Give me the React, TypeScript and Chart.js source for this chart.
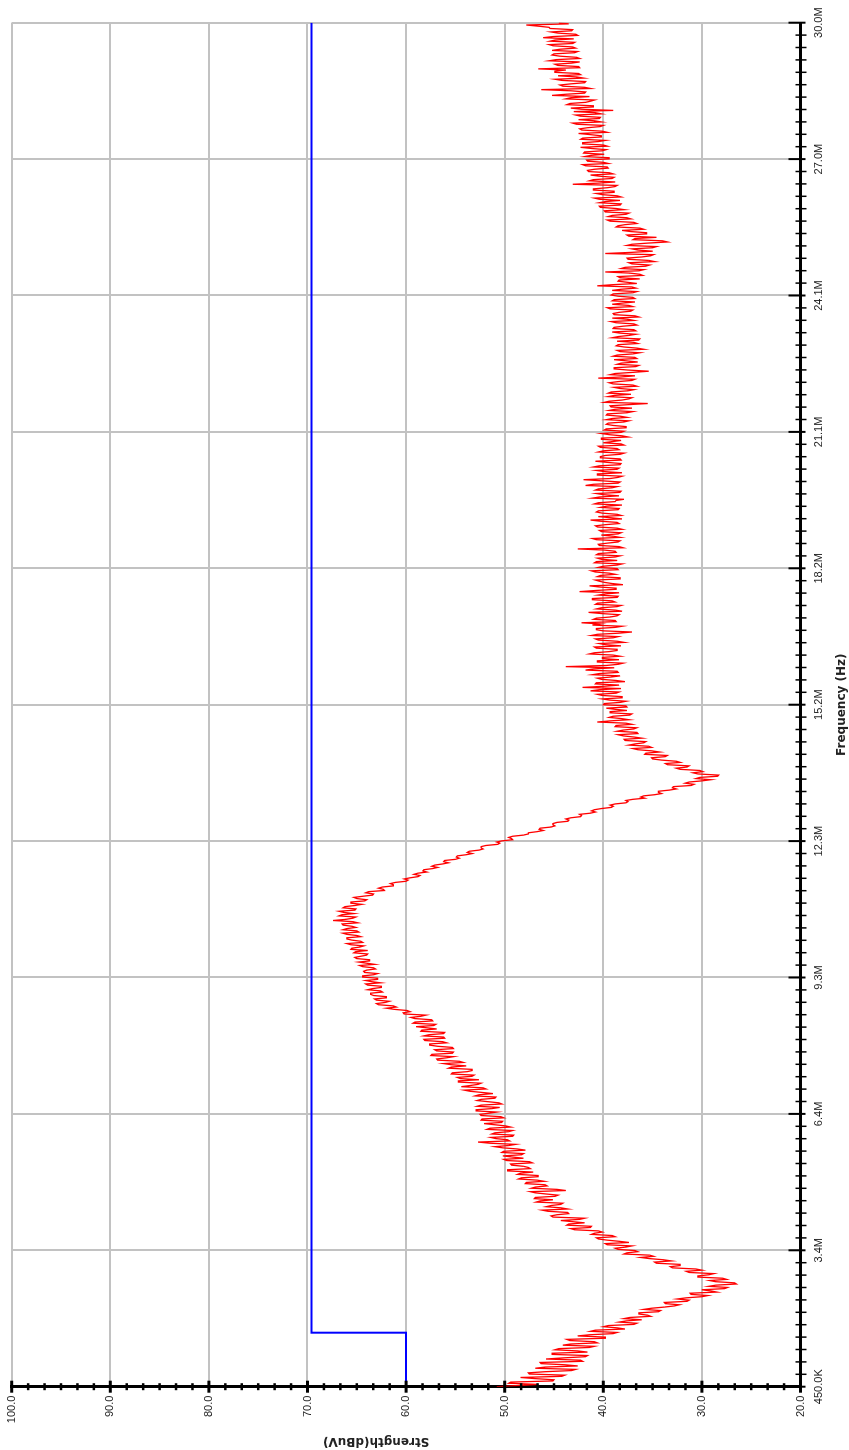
import React, { useEffect, useRef } from 'react';
import { Chart, registerables } from 'chart.js';

Chart.register(...registerables);

// ---- axis definitions ----
const FREQ_MIN = 0.45; // MHz
const FREQ_MAX = 30.0; // MHz
const FREQ_TICKS = [0.45, 3.405, 6.36, 9.315, 12.27, 15.225, 18.18, 21.135, 24.09, 27.045, 30.0];
const FREQ_TICK_LABELS = ['450.0K', '3.4M', '6.4M', '9.3M', '12.3M', '15.2M', '18.2M', '21.1M', '24.1M', '27.0M', '30.0M'];
const STRENGTH_MIN = 20;
const STRENGTH_MAX = 100;
const STRENGTH_TICKS = [20, 30, 40, 50, 60, 70, 80, 90, 100];
const STRENGTH_TICK_LABELS = ['20.0', '30.0', '40.0', '50.0', '60.0', '70.0', '80.0', '90.0', '100.0'];
const X_TITLE = 'Frequency (Hz)';
const Y_TITLE = 'Strength(dBuV)';

// ---- limit line (blue) ----
const LIMIT_FREQ = [0.45, 1.62, 1.62, 30.0];
const LIMIT_LEVEL = [60.0, 60.0, 69.6, 69.6];

// ---- measured trace (red), sweep step 0.025 MHz ----
const SWEEP_STEP = 0.025;
const TRACE_0M45 = [
  50.8, 48.7, 46.6, 49.6, 49.4, 45.1, 45.0, 46.9, 48.4, 44.2,
  43.9, 47.5, 47.6, 45.9, 43.2, 42.8, 46.9, 45.9, 42.6, 43.9,
  46.3, 46.4, 42.1, 42.3, 45.8, 44.0, 41.8, 41.6, 45.2, 45.2,
  41.6, 42.6, 44.9, 44.5, 41.4, 40.9, 44.1, 43.3, 40.6, 40.9,
  43.4, 43.7, 39.8, 39.8, 42.6, 41.4, 39.0, 38.6, 41.3, 40.8,
  37.8, 38.6, 40.0, 39.5, 36.9, 36.6, 38.4, 37.7, 36.1, 37.9,
  37.3, 35.2, 35.5, 36.4, 36.4, 34.4, 34.2, 35.9, 35.1, 33.8,
  32.8, 32.3, 33.7, 33.8, 31.5, 31.3, 32.5, 31.6, 30.0, 29.4,
  31.1, 31.2, 28.5, 29.1, 30.0, 27.7, 27.4, 29.3, 28.6, 26.5,
  26.7, 28.6, 29.2, 27.5, 27.9, 30.4, 30.4, 29.3, 28.8, 31.3,
  31.6, 30.0, 30.6, 33.0, 33.2, 32.2, 32.2, 34.6, 34.8, 33.1,
  33.9, 35.3, 36.2, 34.9, 35.3, 37.9, 37.6, 36.5, 36.8, 38.5,
];
const TRACE_3M45 = [
  38.8, 37.7, 37.1, 39.6, 39.8, 37.4, 38.4, 39.6, 40.5, 40.7,
  38.8, 39.1, 41.2, 40.9, 40.1, 40.5, 42.9, 43.3, 41.3, 41.2,
  43.7, 43.5, 41.9, 43.1, 44.3, 42.4, 41.9, 45.1, 45.3, 44.7,
  43.5, 43.6, 45.6, 46.2, 43.6, 44.3, 45.8, 45.3, 44.3, 44.1,
  46.8, 46.4, 45.1, 47.0, 46.9, 44.9, 44.6, 45.8, 46.9, 47.4,
  43.8, 44.7, 47.3, 46.9, 45.7, 45.9, 47.9, 47.8, 46.0, 46.7,
  48.6, 48.3, 46.6, 46.6, 48.7, 48.4, 47.1, 49.7, 49.7, 47.4,
  47.6, 48.1, 49.3, 49.4, 47.2, 47.5, 49.8, 50.1, 48.1, 49.2,
  50.2, 48.3, 48.1, 50.3, 50.1, 47.9, 48.7, 50.2, 51.0, 49.6,
  48.9, 51.5, 52.7, 49.5, 49.7, 50.9, 51.4, 49.2, 49.1, 51.3,
  51.0, 49.6, 49.2, 51.8, 51.5, 49.4, 49.9, 51.0, 52.1, 50.3,
  50.2, 52.4, 52.3, 50.1, 50.4, 52.4, 52.5, 51.6, 50.8, 52.9,
];
const TRACE_6M45 = [
  52.9, 51.3, 50.5, 52.8, 52.4, 50.3, 50.6, 51.7, 52.8, 52.4,
  51.0, 50.9, 53.0, 52.6, 51.2, 52.3, 53.5, 54.1, 51.9, 52.2,
  54.4, 53.5, 52.7, 52.4, 54.7, 54.7, 52.6, 54.5, 54.8, 53.3,
  53.1, 55.4, 55.3, 53.8, 53.3, 53.3, 55.7, 55.4, 53.9, 55.4,
  56.2, 54.2, 54.6, 56.8, 56.9, 55.9, 55.2, 57.5, 57.4, 55.3,
  55.2, 56.9, 57.1, 55.2, 55.3, 56.8, 57.6, 57.6, 55.9, 56.3,
  58.1, 58.2, 56.1, 56.2, 58.2, 57.7, 56.2, 56.1, 58.5, 58.4,
  56.9, 57.9, 59.0, 57.2, 57.0, 59.3, 59.1, 57.3, 57.4, 59.1,
  59.5, 58.5, 58.0, 60.2, 60.3, 59.6, 59.9, 61.2, 62.0, 61.0,
  61.3, 62.8, 63.0, 62.1, 61.7, 63.0, 63.2, 62.0, 62.0, 63.3,
  63.6, 63.6, 62.4, 62.6, 63.9, 63.4, 62.5, 62.5, 63.9, 64.1,
  62.6, 63.5, 64.1, 62.9, 62.9, 64.4, 64.4, 63.3, 62.9, 64.2,
];
const TRACE_9M45 = [
  64.3, 64.0, 63.1, 63.3, 64.4, 64.7, 63.2, 64.0, 64.8, 63.7,
  63.7, 65.0, 65.2, 64.6, 64.0, 63.9, 65.3, 65.1, 63.9, 65.6,
  65.5, 64.7, 64.3, 65.6, 66.0, 64.4, 64.6, 65.5, 66.0, 66.0,
  64.6, 65.0, 66.0, 66.4, 64.8, 65.0, 66.4, 66.0, 65.1, 65.5,
  66.4, 66.5, 64.9, 65.4, 67.4, 66.1, 65.4, 65.1, 66.8, 66.5,
  65.3, 66.3, 66.8, 65.2, 65.1, 66.4, 66.2, 65.2, 64.5, 65.6,
  65.6, 64.2, 64.0, 65.0, 65.3, 64.4, 63.4, 63.3, 64.1, 63.8,
  62.2, 62.3, 62.8, 62.4, 61.3, 61.3, 61.6, 61.1, 60.0, 59.8,
  60.2, 59.6, 58.8, 58.6, 59.2, 58.8, 57.9, 58.3, 58.2, 57.3,
  56.8, 57.4, 57.1, 56.3, 55.7, 56.2, 56.1, 55.0, 54.6, 54.9,
  54.8, 53.9, 53.3, 53.8, 53.6, 52.6, 52.2, 52.4, 52.4, 51.9,
  50.7, 50.5, 50.8, 50.3, 49.2, 49.3, 49.6, 49.2, 48.1, 47.6,
];
const TRACE_12M45 = [
  47.6, 46.7, 46.1, 46.5, 46.4, 45.3, 44.9, 45.1, 45.1, 44.7,
  43.6, 43.5, 43.8, 43.3, 42.3, 42.2, 42.4, 41.3, 40.8, 41.2,
  40.9, 40.2, 39.2, 39.0, 39.3, 38.8, 37.7, 37.5, 37.7, 37.0,
  35.8, 36.2, 35.9, 34.8, 34.1, 34.4, 34.4, 33.3, 32.6, 33.0,
  32.9, 31.1, 30.8, 31.7, 31.3, 30.0, 29.1, 30.6, 30.2, 28.4,
  28.3, 30.4, 30.9, 29.9, 30.2, 32.2, 32.6, 31.5, 31.3, 33.5,
  33.7, 32.2, 32.6, 34.1, 35.0, 35.1, 33.7, 33.5, 35.8, 35.7,
  34.3, 35.1, 36.5, 37.0, 35.1, 35.4, 37.4, 36.8, 35.9, 35.7,
  37.8, 37.9, 36.1, 36.9, 38.0, 38.5, 36.5, 36.6, 38.6, 38.0,
  36.9, 36.6, 38.8, 38.7, 37.1, 37.7, 40.6, 39.3, 37.4, 38.2,
  39.4, 39.0, 37.3, 37.1, 39.3, 39.3, 37.6, 38.8, 39.7, 37.6,
  37.7, 40.0, 39.9, 38.3, 37.7, 39.4, 40.1, 38.1, 38.1, 40.1,
];
const TRACE_15M45 = [
  40.6, 38.7, 38.4, 41.3, 40.4, 38.2, 42.1, 39.9, 38.4, 40.8,
  40.7, 37.8, 38.7, 40.2, 40.6, 39.2, 38.3, 41.1, 40.4, 38.5,
  38.6, 41.8, 41.0, 38.9, 43.8, 39.7, 38.5, 38.0, 40.6, 40.6,
  38.4, 40.1, 40.1, 38.3, 39.0, 41.4, 40.9, 39.4, 38.6, 38.6,
  40.7, 40.9, 38.2, 39.8, 40.4, 37.9, 38.6, 40.5, 40.8, 39.0,
  38.5, 41.2, 40.6, 38.4, 37.1, 40.0, 40.7, 40.7, 38.8, 38.1,
  41.1, 40.3, 42.2, 38.7, 38.8, 41.0, 40.7, 39.3, 38.6, 38.4,
  40.2, 41.5, 38.1, 38.8, 40.7, 40.2, 38.6, 38.2, 40.8, 40.6,
  38.8, 39.1, 41.1, 41.1, 38.6, 38.5, 40.5, 39.8, 38.4, 42.4,
  40.7, 38.7, 38.7, 40.4, 41.4, 38.0, 39.1, 39.9, 40.4, 40.8,
  38.3, 38.3, 40.6, 40.3, 38.8, 39.4, 40.8, 41.2, 38.5, 38.6,
  40.5, 40.0, 38.6, 38.1, 40.9, 40.7, 38.6, 40.2, 40.6, 38.8,
];
const TRACE_18M45 = [
  38.3, 40.7, 40.5, 38.7, 38.8, 39.9, 42.6, 38.0, 38.4, 40.4,
  40.5, 39.6, 38.5, 38.3, 40.7, 41.1, 38.3, 39.0, 40.2, 38.5,
  38.2, 40.2, 40.4, 38.1, 38.6, 40.6, 40.8, 39.8, 38.4, 38.6,
  40.3, 41.3, 38.1, 39.2, 40.5, 38.2, 38.6, 40.1, 40.7, 40.5,
  38.5, 38.4, 40.3, 39.7, 38.1, 40.9, 40.5, 38.8, 38.7, 37.9,
  41.1, 40.4, 38.4, 40.0, 40.7, 38.3, 38.2, 40.8, 40.5, 39.1,
  38.6, 41.8, 41.0, 38.5, 38.3, 40.1, 42.0, 39.3, 38.5, 38.1,
  40.6, 40.6, 38.1, 39.9, 40.7, 38.6, 38.4, 41.0, 40.4, 38.3,
  38.2, 39.6, 40.8, 38.2, 38.3, 40.3, 40.3, 39.8, 38.3, 37.9,
  40.5, 40.0, 38.4, 38.6, 40.3, 40.5, 37.9, 38.2, 40.0, 39.1,
  38.2, 40.2, 40.2, 37.5, 38.1, 39.4, 40.2, 38.2, 37.9, 39.9,
  39.7, 37.7, 37.7, 39.0, 39.7, 39.5, 37.9, 37.4, 39.7, 39.1,
];
const TRACE_21M45 = [
  37.6, 38.3, 39.7, 39.6, 37.6, 37.0, 39.4, 38.8, 37.1, 39.2,
  39.3, 37.5, 35.5, 39.9, 39.4, 38.1, 37.4, 37.1, 39.5, 38.9,
  37.2, 39.5, 39.2, 37.5, 36.9, 38.3, 38.9, 36.6, 37.0, 39.0,
  39.4, 38.5, 37.1, 36.8, 40.5, 38.2, 36.8, 39.3, 38.8, 37.0,
  35.4, 37.5, 38.9, 38.9, 36.7, 36.4, 38.6, 38.2, 36.5, 37.7,
  38.9, 36.6, 36.8, 39.0, 38.6, 37.0, 36.3, 38.3, 38.6, 35.9,
  36.6, 37.9, 38.7, 38.5, 36.5, 36.9, 38.6, 36.4, 36.3, 39.1,
  38.5, 37.4, 36.7, 38.3, 39.1, 36.7, 36.9, 39.0, 38.9, 38.0,
  36.6, 36.9, 38.7, 39.2, 36.9, 37.5, 39.1, 36.4, 36.8, 38.9,
  39.0, 38.4, 37.2, 37.0, 39.3, 39.6, 37.0, 37.4, 39.1, 38.1,
  36.8, 39.1, 38.9, 36.8, 37.0, 38.5, 39.2, 39.0, 37.0, 36.6,
  39.1, 38.2, 36.7, 37.1, 40.6, 39.0, 36.6, 37.5, 38.5, 38.4,
];
const TRACE_24M45 = [
  36.3, 38.3, 38.5, 36.0, 36.3, 37.3, 39.8, 36.4, 35.9, 38.2,
  37.8, 35.7, 35.3, 37.1, 37.4, 34.8, 35.4, 37.5, 37.6, 36.1,
  35.2, 34.9, 39.8, 37.1, 35.0, 36.5, 37.1, 35.0, 34.6, 37.6,
  37.1, 35.5, 33.5, 34.0, 37.0, 36.8, 34.6, 37.4, 37.6, 35.6,
  35.6, 37.2, 38.1, 35.9, 36.3, 38.7, 38.5, 37.8, 36.6, 36.9,
  39.3, 39.6, 37.2, 37.6, 39.5, 39.1, 37.7, 37.4, 39.8, 39.9,
  37.9, 38.7, 40.3, 40.4, 38.3, 38.2, 40.4, 39.8, 38.3, 40.4,
  40.9, 38.2, 38.6, 40.1, 40.7, 38.9, 38.9, 41.0, 41.0, 39.6,
  38.8, 38.6, 43.1, 40.5, 38.8, 41.4, 41.0, 39.1, 38.9, 40.4,
  41.3, 39.0, 39.4, 41.5, 41.6, 40.9, 39.5, 39.6, 41.8, 42.1,
  39.5, 40.0, 41.6, 41.7, 39.4, 39.4, 41.9, 41.3, 39.9, 42.0,
  41.9, 40.1, 39.7, 41.2, 42.3, 39.6, 40.0, 42.1, 42.1, 40.5,
];
const TRACE_27M45 = [
  39.8, 42.3, 42.1, 40.2, 40.2, 41.3, 42.5, 39.6, 40.1, 42.2,
  42.4, 41.6, 40.3, 40.0, 42.7, 43.1, 40.2, 40.9, 42.5, 40.4,
  40.3, 42.3, 42.8, 40.2, 40.8, 43.0, 39.0, 42.2, 43.3, 41.0,
  41.0, 43.7, 43.4, 41.8, 41.3, 40.9, 43.8, 43.3, 41.4, 45.2,
  43.8, 41.9, 41.8, 43.3, 46.3, 41.3, 41.9, 44.1, 44.4, 43.3,
  41.9, 41.8, 44.2, 44.9, 42.0, 42.7, 44.6, 42.3, 42.5, 44.9,
  44.9, 43.8, 46.6, 42.4, 42.5, 44.6, 44.9, 43.2, 42.4, 45.5,
  44.8, 42.4, 42.7, 44.4, 45.2, 45.0, 42.9, 42.6, 45.2, 44.4,
  42.8, 43.1, 45.1, 45.5, 43.1, 42.9, 45.4, 44.9, 43.0, 46.1,
  45.1, 42.6, 42.8, 44.6, 45.3, 43.2, 43.1, 45.4, 45.5, 46.6,
  47.8, 43.5, 44.5,
];
const TRACE_SEGMENTS: [number, number[]][] = [
  [0.45, TRACE_0M45], [3.45, TRACE_3M45], [6.45, TRACE_6M45], [9.45, TRACE_9M45],
  [12.45, TRACE_12M45], [15.45, TRACE_15M45], [18.45, TRACE_18M45], [21.45, TRACE_21M45],
  [24.45, TRACE_24M45], [27.45, TRACE_27M45],
];

const TICK_FONT = "'Liberation Sans', Arial, sans-serif";
const TITLE_FONT = "'DejaVu Sans', Verdana, sans-serif";

function buildTrace() {
  const pts: { x: number; y: number }[] = [];
  TRACE_SEGMENTS.forEach(([start, vals]) => {
    vals.forEach((v, i) => {
      pts.push({ x: Math.round((start + i * SWEEP_STEP) * 10000) / 10000, y: v });
    });
  });
  return pts;
}

const axisDecorPlugin = {
  id: 'axisDecor',
  afterDraw(chart: any) {
    const { ctx, chartArea } = chart;
    const xs = chart.scales.x;
    const ys = chart.scales.y;
    ctx.save();
    ctx.strokeStyle = '#000';
    const line = (x1: number, y1: number, x2: number, y2: number, w: number) => {
      ctx.lineWidth = w;
      ctx.beginPath();
      ctx.moveTo(x1, y1);
      ctx.lineTo(x2, y2);
      ctx.stroke();
    };
    // frequency axis ticks
    const by = chartArea.bottom;
    FREQ_TICKS.forEach((v, k) => {
      const px = xs.getPixelForValue(v);
      line(px, by - 12, px, by + 5, 2);
      if (k < FREQ_TICKS.length - 1) {
        const nv = FREQ_TICKS[k + 1];
        for (let m = 1; m < 11; m++) {
          const mp = xs.getPixelForValue(v + ((nv - v) * m) / 11);
          line(mp, by - 5, mp, by + 6, 1.5);
        }
      }
    });
    // strength axis ticks
    const lx = chartArea.left;
    STRENGTH_TICKS.forEach((v, k) => {
      const py = ys.getPixelForValue(v);
      line(lx - 6, py, lx + 6, py, 3);
      if (k < STRENGTH_TICKS.length - 1) {
        const nv = STRENGTH_TICKS[k + 1];
        for (let m = 1; m < 6; m++) {
          const mp = ys.getPixelForValue(v + ((nv - v) * m) / 6);
          line(lx - 3.5, mp, lx + 3.5, mp, 2.5);
        }
      }
    });
    // axis titles
    ctx.fillStyle = '#222';
    ctx.font = `bold 12px ${TITLE_FONT}`;
    ctx.textAlign = 'center';
    ctx.textBaseline = 'middle';
    ctx.fillText(X_TITLE, (chartArea.left + chartArea.right) / 2, chart.height - 7);
    ctx.save();
    ctx.translate(9, (chartArea.top + chartArea.bottom) / 2 - 30);
    ctx.rotate(-Math.PI / 2);
    ctx.fillText(Y_TITLE, 0, 0);
    ctx.restore();
    ctx.restore();
  },
};

export default function App() {
  const ref = useRef<HTMLCanvasElement>(null);

  useEffect(() => {
    const canvas = ref.current!;
    const chart = new Chart(canvas, {
      type: 'line',
      data: {
        datasets: [
          {
            label: 'Limit',
            data: LIMIT_FREQ.map((f, i) => ({ x: f, y: LIMIT_LEVEL[i] })),
            borderColor: '#0000ff',
            borderWidth: 2,
            pointRadius: 0,
            tension: 0,
            fill: false,
          },
          {
            label: 'Trace',
            data: buildTrace(),
            borderColor: '#ff0000',
            borderWidth: 1.3,
            pointRadius: 0,
            tension: 0,
            fill: false,
          },
        ],
      },
      options: {
        responsive: false,
        devicePixelRatio: 1,
        animation: false,
        events: [],
        layout: { padding: { top: 11.7, right: 22.7, left: 0, bottom: 0 } },
        plugins: { legend: { display: false }, tooltip: { enabled: false } },
        scales: {
          x: {
            type: 'linear',
            position: 'bottom',
            min: FREQ_MIN,
            max: FREQ_MAX,
            afterBuildTicks: (s: any) => {
              s.ticks = FREQ_TICKS.map((v) => ({ value: v }));
            },
            afterFit: (s: any) => {
              s.height = 48.5;
              s.paddingLeft = 0;
              s.paddingRight = 0;
              s.paddingTop = 0;
              s.paddingBottom = 0;
            },
            ticks: {
              autoSkip: false,
              maxRotation: 0,
              minRotation: 0,
              padding: 12,
              color: '#222',
              font: { family: TICK_FONT, size: 11 },
              callback: (v: any) => {
                const i = FREQ_TICKS.findIndex((t) => Math.abs(t - v) < 1e-6);
                return i >= 0 ? FREQ_TICK_LABELS[i] : '';
              },
            },
            grid: { color: '#c2c2c2', lineWidth: 2, drawTicks: false },
            border: { display: true, color: '#000', width: 3 },
            title: { display: false },
          },
          y: {
            type: 'linear',
            position: 'left',
            min: STRENGTH_MIN,
            max: STRENGTH_MAX,
            afterBuildTicks: (s: any) => {
              s.ticks = STRENGTH_TICKS.map((v) => ({ value: v }));
            },
            afterFit: (s: any) => {
              s.width = 63.3;
              s.paddingLeft = 0;
              s.paddingRight = 0;
              s.paddingTop = 0;
              s.paddingBottom = 0;
            },
            ticks: {
              padding: 9,
              color: '#222',
              font: { family: TICK_FONT, size: 11 },
              callback: (v: any) => {
                const i = STRENGTH_TICKS.findIndex((t) => Math.abs(t - v) < 1e-6);
                return i >= 0 ? STRENGTH_TICK_LABELS[i] : '';
              },
            },
            grid: { color: '#c2c2c2', lineWidth: 2, drawTicks: false },
            border: { display: true, color: '#000', width: 3 },
            title: { display: false },
          },
        },
      } as any,
      plugins: [axisDecorPlugin],
    });
    return () => chart.destroy();
  }, []);

  return (
    <div
      style={{
        position: 'fixed',
        left: 0,
        top: 0,
        width: 1450,
        height: 849,
        background: '#fff',
        transformOrigin: '0 0',
        transform: 'translate(0px, 1450px) rotate(-90deg)',
      }}
    >
      <canvas ref={ref} width={1450} height={849} style={{ display: 'block', width: 1450, height: 849 }} />
    </div>
  );
}
